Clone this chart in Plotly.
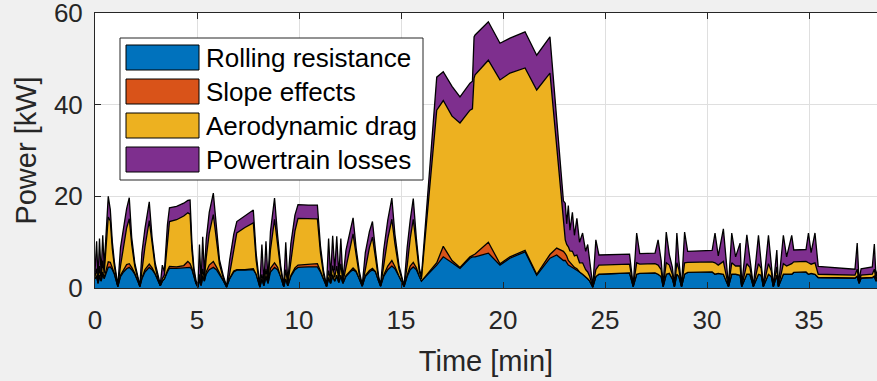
import plotly.graph_objects as go

# ---------------- data ----------------
time_min = [0.00, 0.08, 0.15, 0.22, 0.30, 0.38, 0.45, 0.55, 0.65, 0.75,
            0.85, 0.95, 1.05, 1.12, 1.25, 1.40, 1.55, 1.68, 1.80, 1.95,
            2.10, 2.20, 2.30, 2.45, 2.66, 2.80, 2.95, 3.10, 3.20, 3.30,
            3.40, 3.55, 3.65, 4.00, 4.35, 4.55, 4.66, 4.75, 4.85, 4.95,
            5.05, 5.12, 5.20, 5.28, 5.36, 5.45, 5.60, 5.80, 5.95, 6.10,
            6.30, 6.45, 6.60, 6.80, 6.95, 7.35, 7.76, 7.90, 8.00, 8.08,
            8.18, 8.28, 8.38, 8.48, 8.60, 8.80, 8.95, 9.10, 9.25, 9.35,
            9.45, 9.60, 9.80, 9.95, 10.45, 10.90, 11.05, 11.20, 11.35, 11.45,
            11.55, 11.65, 11.75, 11.85, 11.95, 12.05, 12.15, 12.30, 12.50, 12.65,
            12.80, 12.95, 13.10, 13.25, 13.45, 13.60, 13.75, 13.90, 14.00, 14.15,
            14.35, 14.55, 14.70, 14.90, 15.15, 15.30, 15.45, 15.60, 15.75, 15.90,
            16.00, 16.75, 17.07, 17.50, 17.89, 18.38, 18.50, 18.58, 18.63, 19.28,
            19.85, 20.34, 21.08, 21.65, 22.30, 22.63, 22.96, 23.05, 23.12, 23.20,
            23.28, 23.40, 23.50, 23.62, 23.75, 23.90, 24.05, 24.15, 24.25, 24.40,
            24.55, 24.70, 26.20, 26.38, 26.55, 26.70, 27.45, 27.60, 27.75, 27.85,
            28.00, 28.15, 28.30, 28.40, 28.52, 28.62, 28.75, 28.90, 29.05, 30.25,
            30.39, 30.55, 30.80, 31.05, 31.21, 31.40, 31.62, 31.70, 31.95, 32.10,
            32.27, 32.52, 32.65, 32.76, 33.01, 33.15, 33.25, 33.42, 33.50, 33.74,
            33.90, 34.15, 34.25, 34.85, 34.97, 35.10, 35.29, 35.45, 37.25, 37.36,
            37.45, 37.55, 38.10, 38.20, 38.28, 38.40]

rolling = [2.0, 2.5, 1.0, 2.5, 1.5, 3.0, 2.0, 3.5, 4.5, 4.6,
           4.0, 3.0, 1.5, 0.3, 2.5, 3.5, 4.2, 4.5, 4.0, 3.0,
           1.5, 0.3, 2.0, 3.5, 4.5, 4.0, 3.0, 1.5, 0.5, 1.5,
           2.0, 3.5, 4.3, 4.3, 4.4, 4.6, 4.5, 4.0, 2.5, 1.0,
           0.2, 2.0, 0.5, 2.5, 1.5, 3.0, 4.0, 4.5, 4.0, 3.0,
           1.5, 0.2, 2.0, 3.5, 3.9, 3.9, 4.0, 3.0, 1.5, 0.2,
           2.0, 0.5, 2.5, 1.0, 3.5, 4.5, 4.0, 2.5, 0.3, 2.0,
           0.5, 2.5, 4.0, 4.5, 4.6, 4.6, 3.5, 2.0, 0.3, 2.0,
           1.0, 2.5, 1.5, 2.5, 1.2, 2.5, 1.0, 2.5, 3.5, 4.0,
           3.5, 2.0, 0.4, 2.5, 3.5, 4.0, 3.5, 1.5, 0.4, 2.5,
           4.0, 4.8, 4.2, 2.5, 0.3, 2.5, 4.0, 4.6, 4.0, 2.5,
           1.5, 5.0, 6.8, 5.5, 4.3, 6.5, 6.8, 6.8, 6.8, 7.6,
           5.0, 6.5, 7.9, 2.8, 6.5, 7.2, 6.0, 6.0, 5.5, 5.0,
           4.8, 4.5, 4.2, 4.0, 3.5, 3.0, 2.5, 2.0, 1.5, 0.2,
           2.5, 3.0, 3.3, 0.3, 3.0, 3.2, 3.3, 3.0, 2.5, 0.3,
           3.0, 3.2, 2.0, 0.3, 3.0, 2.5, 0.3, 3.0, 3.4, 3.5,
           3.0, 3.2, 3.0, 0.3, 3.0, 3.0, 2.8, 0.3, 3.0, 3.0,
           0.3, 3.0, 2.8, 0.3, 3.0, 2.5, 0.3, 2.8, 0.3, 3.0,
           3.0, 3.0, 3.4, 3.5, 3.0, 3.2, 3.0, 2.2, 2.1, 2.5,
           1.0, 2.1, 2.2, 2.5, 1.5, 2.2]

slope = [0.0, 0.2, 0.0, 0.3, 0.0, 0.5, 0.2, 0.8, 1.2, 1.0,
         0.5, 0.2, 0.0, 0.0, 0.3, 0.6, 0.9, 0.8, 0.5, 0.2,
         0.0, 0.0, 0.2, 0.5, 0.7, 0.4, 0.1, 0.0, 0.0, 0.0,
         0.0, 0.3, 0.4, 0.3, 0.5, 1.2, 0.8, 0.3, 0.0, 0.0,
         0.0, 0.0, 0.0, 0.2, 0.0, 0.5, 1.0, 1.3, 0.6, 0.2,
         0.0, 0.0, 0.1, 0.2, 0.1, 0.1, 0.2, 0.0, 0.0, 0.0,
         0.0, 0.0, 0.2, 0.0, 0.8, 1.0, 0.5, 0.1, 0.0, 0.0,
         0.0, 0.2, 0.4, 0.5, 0.6, 0.7, 0.2, 0.0, 0.0, 0.3,
         0.0, 0.4, 0.0, 0.3, 0.0, 0.3, 0.0, 0.2, 0.3, 0.4,
         0.2, 0.0, 0.0, 0.2, 0.3, 0.3, 0.1, 0.0, 0.0, 0.3,
         0.8, 1.2, 0.5, 0.1, 0.0, 0.3, 0.8, 1.0, 0.4, 0.0,
         0.0, 0.5, 2.3, 0.5, 0.2, 0.3, 0.3, 0.5, 0.6, 2.4,
         0.3, 0.3, 0.3, 0.2, 0.8, 1.5, 2.0, 1.5, 1.5, 1.0,
         0.8, 0.5, 0.3, 0.2, 0.0, 0.0, 0.0, 0.0, 0.0, 0.0,
         0.0, 0.0, 0.0, 0.0, 0.0, 0.0, 0.0, 0.0, 0.0, 0.0,
         0.0, 0.0, 0.0, 0.0, 0.0, 0.0, 0.0, 0.0, 0.0, 0.0,
         0.0, 0.0, 0.0, 0.0, 0.0, 0.0, 0.0, 0.0, 0.0, 0.0,
         0.0, 0.0, 0.0, 0.0, 0.0, 0.0, 0.0, 0.0, 0.0, 0.0,
         0.0, 0.0, 0.0, 0.0, 0.0, 0.0, 0.0, 0.1, 0.1, 0.1,
         0.0, 0.1, 0.1, 0.1, 0.0, 0.1]

aero = [0.5, 1.5, 0.2, 2.0, 0.5, 2.5, 1.0, 5.0, 9.8, 9.0,
        4.0, 1.5, 0.3, 0.0, 2.0, 5.0, 8.0, 9.8, 5.0, 1.5,
        0.3, 0.0, 1.5, 5.0, 9.5, 5.0, 1.5, 0.3, 0.0, 0.5,
        0.8, 6.0, 9.8, 10.3, 10.8, 10.6, 10.8, 4.0, 1.0, 0.2,
        0.0, 1.0, 0.2, 1.5, 0.5, 3.0, 7.0, 10.2, 6.0, 2.0,
        0.5, 0.0, 1.0, 5.0, 8.0, 9.2, 10.0, 3.0, 0.5, 0.0,
        1.0, 0.2, 1.5, 0.3, 4.0, 9.5, 5.0, 1.5, 0.0, 2.0,
        0.3, 3.0, 8.0, 10.2, 10.0, 9.8, 4.0, 1.0, 0.0, 1.5,
        0.5, 2.0, 0.8, 2.0, 0.5, 2.5, 0.3, 2.0, 5.0, 7.4,
        3.5, 1.0, 0.0, 1.5, 5.0, 6.8, 3.0, 0.5, 0.0, 2.0,
        6.0, 9.0, 5.0, 1.5, 0.0, 2.0, 6.0, 9.4, 4.5, 1.0,
        0.5, 33.3, 31.8, 31.5, 31.5, 32.0, 32.0, 38.5, 39.1, 39.7,
        40.1, 40.1, 39.8, 40.2, 39.6, 22.0, 8.0, 3.0, 2.5, 3.0,
        2.5, 3.0, 2.5, 3.0, 2.0, 2.5, 1.5, 1.5, 1.0, 0.0,
        1.5, 2.0, 1.9, 0.0, 2.5, 2.0, 2.0, 2.0, 1.5, 0.0,
        2.5, 1.8, 1.0, 0.0, 2.5, 1.5, 0.0, 2.5, 2.2, 2.2,
        2.5, 1.8, 2.8, 0.0, 2.5, 1.8, 2.0, 0.0, 2.3, 1.5,
        0.0, 2.3, 1.5, 0.0, 2.3, 1.2, 0.0, 1.8, 0.0, 2.3,
        1.8, 2.3, 2.3, 2.3, 2.5, 2.0, 2.5, 0.7, 0.6, 1.5,
        0.2, 0.6, 0.7, 1.5, 0.3, 0.7]

losses = [1.0, 6.0, 0.5, 6.0, 1.0, 5.5, 1.5, 4.0, 4.5, 2.5,
          1.5, 1.0, 0.6, 0.2, 4.0, 4.0, 4.2, 4.6, 1.5, 0.8,
          0.5, 0.2, 4.0, 4.0, 4.1, 1.5, 0.8, 0.5, 0.3, 3.0,
          0.8, 4.0, 3.0, 2.9, 2.8, 2.7, 3.1, 1.5, 0.8, 0.5,
          0.2, 6.5, 0.5, 7.0, 1.0, 4.0, 4.5, 4.7, 2.0, 1.0,
          0.5, 0.2, 3.0, 3.0, 2.5, 2.6, 2.8, 1.5, 0.8, 0.2,
          6.5, 0.4, 6.0, 0.5, 4.0, 4.6, 2.0, 0.8, 0.2, 6.0,
          0.5, 4.0, 3.5, 3.0, 2.9, 3.0, 1.5, 0.8, 0.2, 7.0,
          1.0, 6.5, 1.5, 6.5, 1.0, 5.5, 0.6, 3.5, 3.5, 3.5,
          1.5, 0.8, 0.3, 3.5, 3.5, 3.4, 1.5, 0.6, 0.3, 3.5,
          4.0, 4.6, 2.0, 0.8, 0.2, 4.0, 4.0, 4.5, 2.0, 0.8,
          0.5, 7.2, 6.3, 6.5, 5.7, 5.9, 6.0, 9.0, 8.7, 8.4,
          8.0, 7.6, 7.9, 7.6, 7.9, 6.0, 3.0, 8.0, 4.5, 9.0,
          4.5, 8.5, 4.5, 8.0, 4.5, 6.5, 4.0, 6.0, 3.5, 0.2,
          6.5, 2.2, 2.2, 0.2, 6.5, 2.3, 2.3, 5.5, 2.0, 0.2,
          6.7, 2.3, 1.5, 0.2, 6.5, 2.0, 0.2, 6.7, 2.4, 2.5,
          6.5, 2.0, 7.1, 0.2, 6.5, 2.0, 5.0, 0.2, 6.3, 1.8,
          0.2, 6.2, 1.8, 0.2, 6.2, 1.5, 0.2, 3.7, 0.2, 6.2,
          2.0, 6.2, 2.6, 2.6, 6.5, 2.5, 6.5, 1.7, 1.3, 5.7,
          0.4, 1.4, 1.6, 5.5, 0.6, 1.7]

series_names = ["Rolling resistance", "Slope effects", "Aerodynamic drag", "Powertrain losses"]
series_colors = ["#0072BD", "#D95319", "#EDB120", "#7E2F8E"]
x_ticks = [0, 5, 10, 15, 20, 25, 30, 35]
y_ticks = [0, 20, 40, 60]

# ---------------- layout constants ----------------
W, H = 877, 381
ML, MR, MT, MB = 95, 0, 13, 93
PW, PH = W - ML - MR, H - MT - MB
X_RANGE = [0, 38.33]
Y_RANGE = [-0.0001, 60.0001]
FONT = "Liberation Sans, Arial, Helvetica, sans-serif"
AXC = "#262626"


def px_x(px):
    return (px - ML) / PW


def px_y(py):
    return (H - MB - py) / PH


fig = go.Figure()
for name, vals, col in zip(series_names, [rolling, slope, aero, losses], series_colors):
    fig.add_trace(go.Scatter(
        x=time_min, y=vals, name=name, stackgroup="power", mode="lines",
        line=dict(color="black", width=1.3), fillcolor=col, showlegend=False,
    ))

# custom MATLAB-style legend (big patches)
shapes = [dict(type="rect", xref="paper", yref="paper",
               x0=px_x(120), x1=px_x(423), y0=px_y(180), y1=px_y(38),
               fillcolor="white", line=dict(color=AXC, width=1), layer="above")]
annotations = []
patch_tops = [45, 79, 113, 147]
for name, col, top in zip(series_names, series_colors, patch_tops):
    shapes.append(dict(type="rect", xref="paper", yref="paper",
                       x0=px_x(126), x1=px_x(199), y0=px_y(top + 25), y1=px_y(top),
                       fillcolor=col, line=dict(color="black", width=1), layer="above"))
    annotations.append(dict(xref="paper", yref="paper", x=px_x(204), y=px_y(top + 13),
                            xanchor="left", yanchor="middle", text=name, showarrow=False,
                            font=dict(family=FONT, size=26, color="#000000")))

fig.update_layout(
    width=W, height=H,
    margin=dict(l=ML, r=MR, t=MT, b=MB, autoexpand=False),
    paper_bgcolor="#f0f0f0", plot_bgcolor="white",
    font=dict(family=FONT, size=26, color=AXC),
    shapes=shapes, annotations=annotations, showlegend=False,
)
fig.update_xaxes(
    range=X_RANGE, tickvals=x_ticks, ticks="inside", ticklen=6, tickcolor=AXC,
    showline=True, linecolor=AXC, linewidth=1, mirror="ticks",
    showgrid=True, gridcolor="#dfdfdf", gridwidth=1, zeroline=False,
    tickfont=dict(size=26, color=AXC), ticklabelstandoff=9,
    ticklabeloverflow="allow",
    title=dict(text="Time [min]", font=dict(size=29, color=AXC), standoff=16),
)
fig.update_yaxes(
    range=Y_RANGE, tickvals=y_ticks, ticks="inside", ticklen=6, tickcolor=AXC,
    showline=True, linecolor=AXC, linewidth=1, mirror=False,
    showgrid=True, gridcolor="#dfdfdf", gridwidth=1, zeroline=False,
    tickfont=dict(size=26, color=AXC), ticklabelstandoff=6,
    ticklabeloverflow="allow",
    title=dict(text="Power [kW]", font=dict(size=29, color=AXC), standoff=8),
)

fig.write_html("out.html")
